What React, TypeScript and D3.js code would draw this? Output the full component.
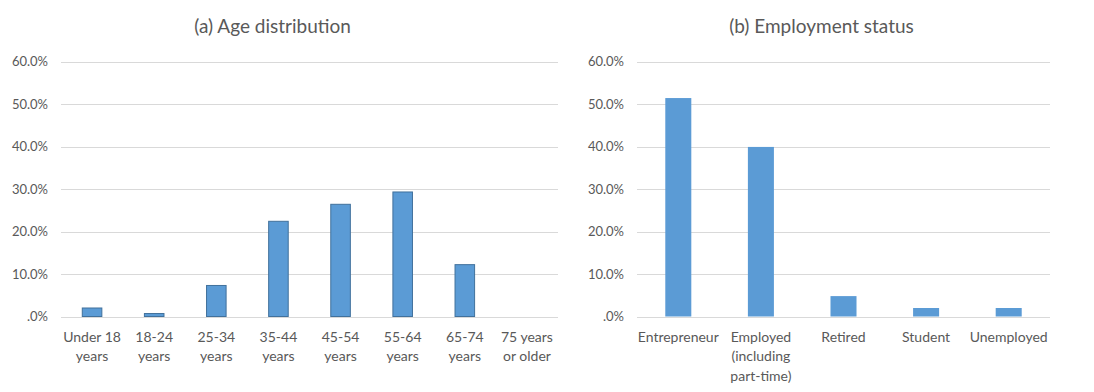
import * as d3 from 'd3';
import React, { useRef, useEffect } from 'react';

// (a) age distribution
const ageCategories = ["Under 18\nyears", "18-24\nyears", "25-34\nyears", "35-44\nyears", "45-54\nyears", "55-64\nyears", "65-74\nyears", "75 years\nor older"];
const ageValues = [2.0, 0.7, 7.3, 22.4, 26.4, 29.3, 12.2, 0];

// (b) employment status
const jobCategories = ["Entrepreneur", "Employed\n(including\npart-time)", "Retired", "Student", "Unemployed"];
const jobValues = [51.4, 39.9, 4.8, 2.0, 2.0];

const yTicks = [0, 10, 20, 30, 40, 50, 60];

const FONT = "Lato, 'Open Sans', sans-serif";
const W = 1094;
const H = 392;

function drawPanel(svg, opts) {
    const { title, titleX, x0, x1, categories, values, outlined } = opts;
    const g = svg.append("g");

    const y = d3.scaleLinear().domain([0, 60]).range([316.5, 61.5]);
    const x = d3.scaleBand().domain(categories).range([x0, x1]).paddingInner(0.685).paddingOuter(0.3425);

    g.append("text")
        .attr("x", titleX)
        .attr("y", 33)
        .attr("text-anchor", "middle")
        .attr("fill", "#595959")
        .style("font-family", FONT)
        .style("font-size", "19px")
        .text(title);

    // gridlines
    g.selectAll("line.grid")
        .data(yTicks)
        .join("line")
        .attr("class", "grid")
        .attr("x1", x0)
        .attr("x2", x1)
        .attr("y1", d => Math.round(y(d)) + 0.5)
        .attr("y2", d => Math.round(y(d)) + 0.5)
        .attr("stroke", "#D9D9D9")
        .attr("stroke-width", 1);

    // y labels
    g.selectAll("text.ytick")
        .data(yTicks)
        .join("text")
        .attr("class", "ytick")
        .attr("x", x0 - 13)
        .attr("y", d => y(d))
        .attr("dy", "0.35em")
        .attr("text-anchor", "end")
        .attr("fill", "#595959")
        .style("font-family", FONT)
        .style("font-size", "13px")
        .text(d => d === 0 ? ".0%" : d.toFixed(1) + "%");

    // bars
    g.selectAll("rect")
        .data(values)
        .join("rect")
        .filter(d => d > 0)
        .attr("x", (d, i) => x(categories[i]))
        .attr("y", d => y(d))
        .attr("width", x.bandwidth())
        .attr("height", d => y(0) - y(d))
        .attr("fill", "#5B9BD5")
        .attr("stroke", outlined ? "#41719C" : "none")
        .attr("stroke-width", 1);

    // x labels
    const lbl = g.selectAll("text.xlab")
        .data(categories)
        .join("text")
        .attr("class", "xlab")
        .attr("x", d => x(d) + x.bandwidth() / 2)
        .attr("y", 342)
        .attr("text-anchor", "middle")
        .attr("fill", "#595959")
        .style("font-family", FONT)
        .style("font-size", "14px");

    lbl.selectAll("tspan")
        .data(d => d.split("\n"))
        .join("tspan")
        .attr("x", function () { return d3.select(this.parentNode).attr("x"); })
        .attr("dy", (d, i) => i === 0 ? 0 : 19.3)
        .text(d => d);
}

function App() {
    const ref = useRef();

    useEffect(() => {
        document.body.style.margin = "0";
        const svg = d3.select(ref.current);
        svg.selectAll("*").remove();

        svg.append("rect").attr("width", W).attr("height", H).attr("fill", "#ffffff");

        drawPanel(svg, {
            title: "(a) Age distribution",
            titleX: 272.5,
            x0: 61,
            x1: 558,
            categories: ageCategories,
            values: ageValues,
            outlined: true
        });

        drawPanel(svg, {
            title: "(b) Employment status",
            titleX: 821.5,
            x0: 637,
            x1: 1050,
            categories: jobCategories,
            values: jobValues,
            outlined: false
        });
    }, []);

    return (
        <svg ref={ref} width={W} height={H} style={{ display: "block" }}></svg>
    );
}

export default App;
